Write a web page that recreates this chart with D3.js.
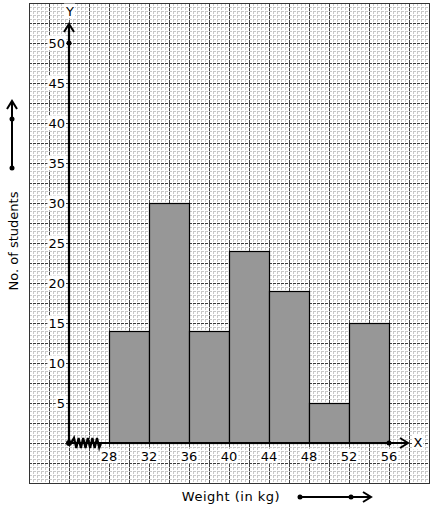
<!DOCTYPE html>
<html>
<head>
<meta charset="utf-8">
<script src="https://cdn.jsdelivr.net/npm/d3@7"></script>
<style>
  body { margin: 0; background: #fff; }
  text { font-family: "DejaVu Sans", sans-serif; }
</style>
</head>
<body>
<div id="chart"></div>
<script>
// class boundaries (kg) and frequencies
var bounds = [28, 32, 36, 40, 44, 48, 52, 56];
var freq = [14, 30, 14, 24, 19, 5, 15];
var yTicks = [5, 10, 15, 20, 25, 30, 35, 40, 45, 50];

var W = 434, H = 510;
var svg = d3.select('#chart').append('svg')
    .attr('width', W).attr('height', H);

var x = d3.scaleLinear().domain([24, 56]).range([69, 389]);
var y = d3.scaleLinear().domain([0, 50]).range([443, 43]);

// graph paper
var gx0 = 29, gx1 = 429, gy0 = 3, gy1 = 483;
var grid = svg.append('g');
d3.range(gx0, gx1 + 1, 4).forEach(function(px){
    var major = (px - gx0) % 20 === 0;
    grid.append('line')
        .attr('x1', px + 0.5).attr('x2', px + 0.5)
        .attr('y1', gy0).attr('y2', gy1)
        .attr('stroke', major ? '#444' : '#c8c8c8')
        .attr('stroke-dasharray', major ? null : '3,1')
        .attr('stroke-width', 1);
});
d3.range(gy0, gy1 + 1, 4).forEach(function(py){
    var major = (py - gy0) % 20 === 0;
    grid.append('line')
        .attr('x1', gx0).attr('x2', gx1)
        .attr('y1', py + 0.5).attr('y2', py + 0.5)
        .attr('stroke', major ? '#3a3a3a' : '#c8c8c8')
        .attr('stroke-dasharray', '3,1')
        .attr('stroke-width', 1);
});
// outer frame
grid.append('rect').attr('x', gx0 + 0.5).attr('y', gy0 + 0.5)
    .attr('width', gx1 - gx0).attr('height', gy1 - gy0)
    .attr('fill', 'none').attr('stroke', '#333');

// bars
svg.append('g').selectAll('rect')
    .data(freq)
    .enter().append('rect')
    .attr('x', function(d, i){ return x(bounds[i]) + 0.5; })
    .attr('width', function(d, i){ return x(bounds[i + 1]) - x(bounds[i]); })
    .attr('y', function(d){ return y(d) + 0.5; })
    .attr('height', function(d){ return y(0) - y(d); })
    .attr('fill', '#979797')
    .attr('stroke', '#000')
    .attr('stroke-width', 1.2);

// axes
var ax = svg.append('g').attr('stroke', '#000').attr('fill', 'none');
ax.append('line').attr('x1', x(24)).attr('x2', 408)
    .attr('y1', y(0)).attr('y2', y(0)).attr('stroke-width', 2.2);
ax.append('line').attr('x1', x(24)).attr('x2', x(24))
    .attr('y1', y(0)).attr('y2', 25).attr('stroke-width', 2.2);
// arrowheads
ax.append('path').attr('d', 'M400,438 L408,443 L400,448').attr('stroke-width', 2);
ax.append('path').attr('d', 'M64,32 L69,24 L74,32').attr('stroke-width', 2);
// axis break zigzag
var zz = 'M71,443';
d3.range(0, 6).forEach(function(k){
    var px = 74 + k * 4.6;
    zz += ' L' + px + ',438 L' + (px + 2.3) + ',448';
});
zz += ' L101,443 L109,443';
ax.append('path').attr('d', zz).attr('stroke-width', 2.2);

svg.append('circle').attr('cx', x(24)).attr('cy', y(0)).attr('r', 3).attr('fill', '#000');
svg.append('circle').attr('cx', x(24)).attr('cy', y(50)).attr('r', 2.5).attr('fill', '#000');
svg.append('circle').attr('cx', x(56)).attr('cy', y(0)).attr('r', 2.5).attr('fill', '#000');

function label(g, t, px, py, anchor){
    var tx = g.append('text').attr('x', px).attr('y', py)
        .attr('text-anchor', anchor).attr('dominant-baseline', 'central')
        .attr('font-size', 13).attr('fill', '#000').text(t);
    var b = tx.node().getBBox();
    g.insert('rect', 'text').attr('x', b.x - 1).attr('y', b.y)
        .attr('width', b.width + 2).attr('height', b.height).attr('fill', '#fff');
}

var tl = svg.append('g');
yTicks.forEach(function(v){
    label(tl.append('g'), v, 65, y(v), 'end');
});
bounds.forEach(function(v){
    label(tl.append('g'), v, x(v), 456, 'middle');
});
label(tl.append('g'), 'X', 418, 442, 'middle');
label(tl.append('g'), 'Y', 70, 11, 'middle');

// axis titles
svg.append('text').attr('x', 231).attr('y', 496)
    .attr('text-anchor', 'middle').attr('dominant-baseline', 'central')
    .attr('font-size', 13).attr('letter-spacing', 0.5).text('Weight (in kg)');
svg.append('text')
    .attr('transform', 'translate(13,241) rotate(-90)')
    .attr('text-anchor', 'middle').attr('dominant-baseline', 'central')
    .attr('font-size', 13).text('No. of students');

// direction arrows
var da = svg.append('g').attr('stroke', '#000').attr('fill', 'none').attr('stroke-width', 2);
da.append('line').attr('x1', 300).attr('x2', 371).attr('y1', 497).attr('y2', 497);
da.append('path').attr('d', 'M363,492 L371,497 L363,502');
da.append('line').attr('x1', 12).attr('x2', 12).attr('y1', 168).attr('y2', 101);
da.append('path').attr('d', 'M7,109 L12,101 L17,109');
[[300, 497], [351, 497], [12, 168], [12, 119]].forEach(function(p){
    svg.append('circle').attr('cx', p[0]).attr('cy', p[1]).attr('r', 2.5).attr('fill', '#000');
});
</script>
</body>
</html>
